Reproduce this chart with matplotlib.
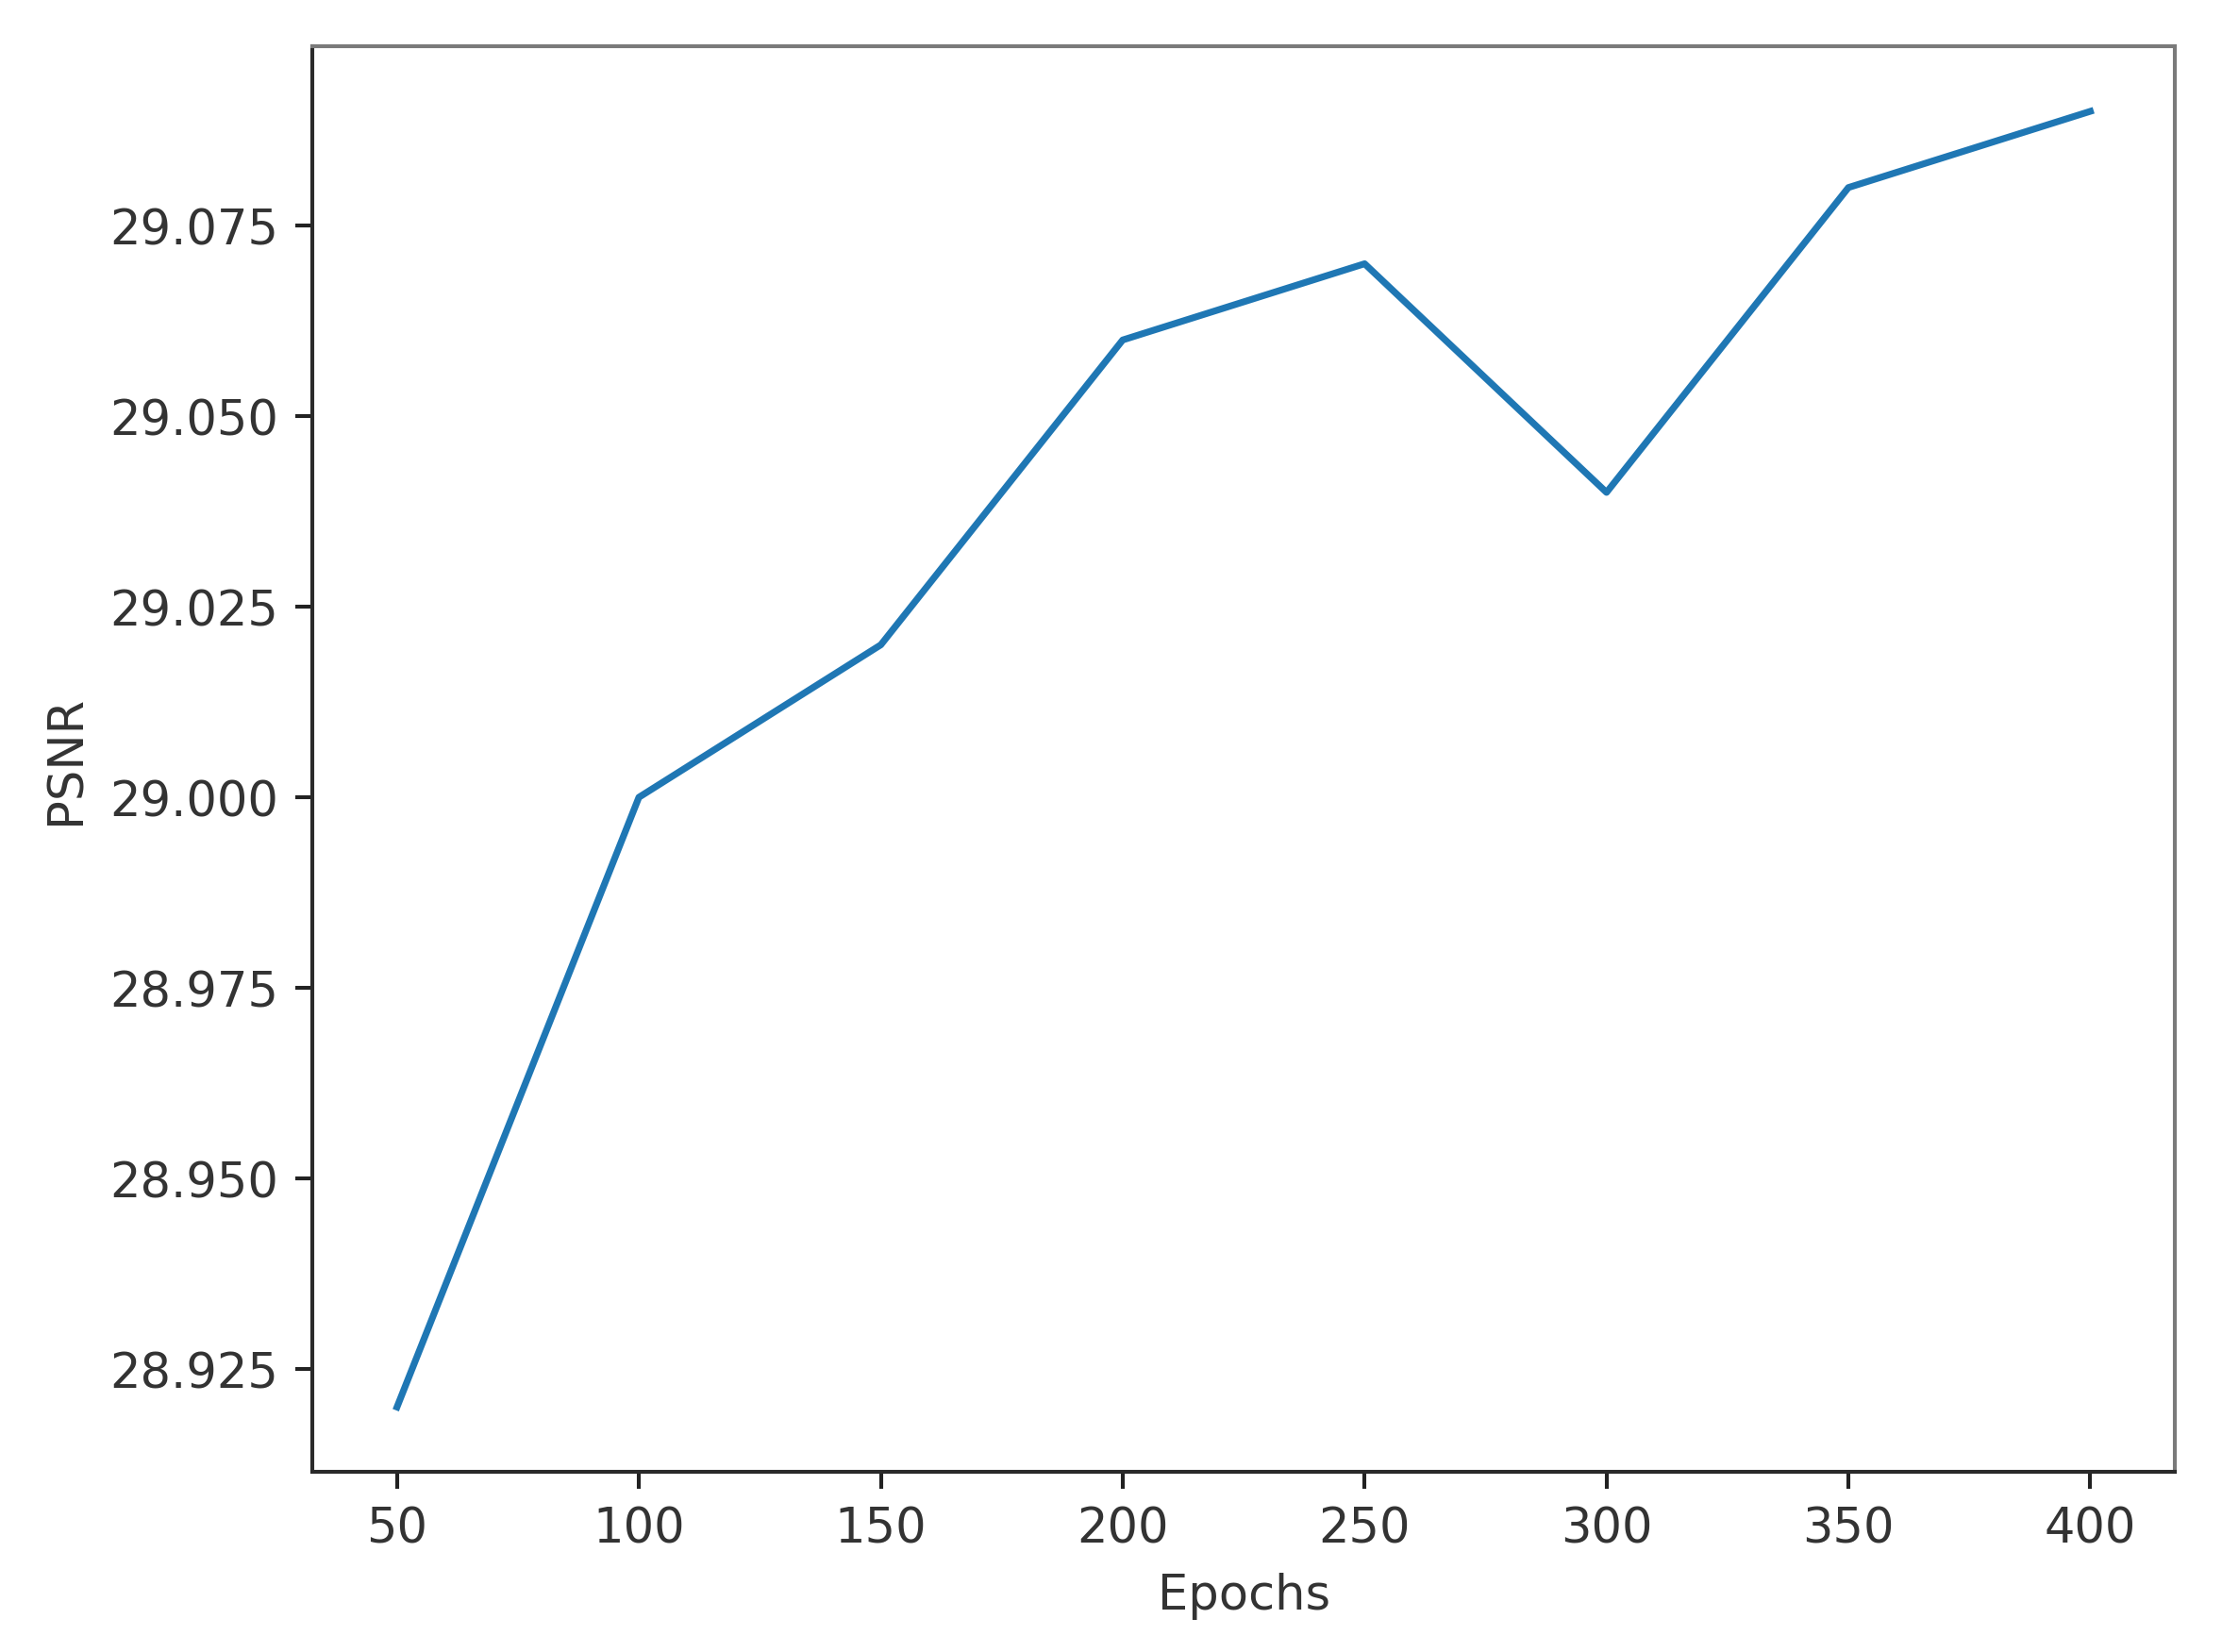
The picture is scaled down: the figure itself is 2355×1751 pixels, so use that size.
import matplotlib
matplotlib.use('Agg')
import matplotlib.pyplot as plt

# PSNR values
epochs = [50, 100, 150, 200, 250, 300, 350, 400]
psnr = [28.92, 29.00, 29.02, 29.06, 29.07, 29.04, 29.08, 29.09]

fig = plt.figure(figsize=(6.4, 4.76), dpi=368)
ax = fig.add_axes([331 / 2355, 1 - 1561 / 1752, (2305 - 331) / 2355, (1561 - 50) / 1752])

ax.plot(epochs, psnr, color='#1f77b4', linewidth=1.4)

ax.set_xlabel('Epochs', color='#333333')
ax.set_ylabel('PSNR', color='#333333')
ax.tick_params(colors='#222222', labelcolor='#333333')

# top/right spines look lighter in the reference
ax.spines['left'].set_color('#2a2a2a')
ax.spines['bottom'].set_color('#2a2a2a')
ax.spines['top'].set_color('#7a7a7a')
ax.spines['right'].set_color('#7a7a7a')

fig.savefig('out.png', dpi=368)
